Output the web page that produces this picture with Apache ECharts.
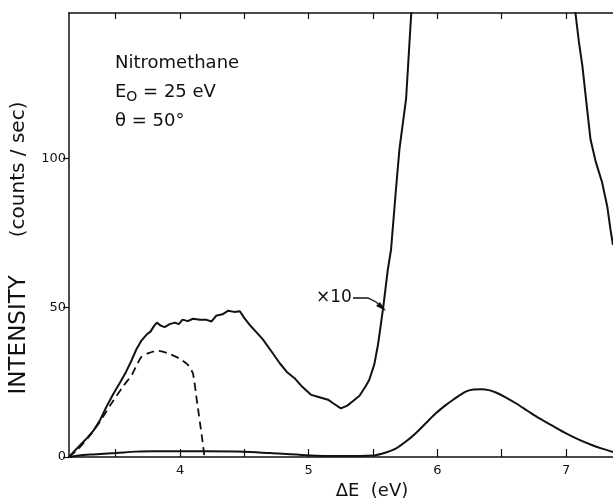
<!DOCTYPE html>
<html>
<head>
<meta charset="utf-8">
<script src="https://cdn.jsdelivr.net/npm/echarts@6/dist/echarts.min.js"></script>
<style>
  html, body { margin: 0; padding: 0; background: #fff; }
  #chart { width: 613px; height: 502px; }
</style>
</head>
<body>
<div id="chart"></div>
<script>
// x10 spectrum (solid, goes off scale between ~5.8 and ~7.06 eV)
const x10E = [3.137, 3.18, 3.225, 3.28, 3.33, 3.38, 3.43, 3.48, 3.535, 3.58, 3.625, 3.66, 3.70, 3.74, 3.77, 3.80, 3.82, 3.85, 3.88, 3.92, 3.96, 3.99, 4.02, 4.06, 4.10, 4.155, 4.20, 4.245, 4.28, 4.33, 4.375, 4.42, 4.465, 4.50, 4.54, 4.60, 4.645, 4.70, 4.775, 4.83, 4.89, 4.95, 5.02, 5.07, 5.11, 5.15, 5.19, 5.25, 5.30, 5.34, 5.395, 5.44, 5.47, 5.51, 5.54, 5.58, 5.615, 5.64, 5.675, 5.705, 5.757, 5.796, 5.81, 6.40, 7.06, 7.075, 7.10, 7.127, 7.16, 7.19, 7.23, 7.28, 7.32, 7.346, 7.365];
const x10I = [0, 2, 4, 6.5, 9, 12.5, 17, 21, 25, 28.5, 32.5, 36, 39, 41, 42, 44, 45, 44, 43.5, 44.5, 45, 44.5, 46, 45.5, 46.3, 46, 46, 45.4, 47.3, 47.8, 49, 48.6, 48.8, 46.5, 44.3, 41.5, 39.3, 36, 31.4, 28.5, 26.4, 23.5, 20.8, 20.2, 19.7, 19.2, 18, 16.3, 17.2, 18.6, 20.5, 23.5, 25.8, 31, 38, 50.4, 62.8, 69.5, 88, 103, 120, 148, 155, null, 155, 148, 139, 131, 118, 106.4, 99, 92, 84, 76, 71];

// unscaled spectrum (solid, lower)
const lowE = [3.137, 3.2, 3.3, 3.38, 3.5, 3.66, 3.8, 4.0, 4.2, 4.49, 4.7, 4.98, 5.24, 5.5, 5.6, 5.68, 5.75, 5.83, 5.91, 5.99, 6.06, 6.12, 6.22, 6.28, 6.34, 6.40, 6.455, 6.53, 6.61, 6.70, 6.79, 6.90, 7.0, 7.1, 7.2, 7.28, 7.365];
const lowI = [0, 0.4, 0.8, 1.0, 1.3, 1.8, 1.9, 1.9, 1.9, 1.8, 1.3, 0.6, 0.3, 0.5, 1.5, 2.9, 5, 7.9, 11.3, 14.7, 17.2, 19.1, 21.9, 22.6, 22.7, 22.4, 21.6, 20, 18, 15.5, 13, 10.3, 7.9, 5.8, 4, 2.8, 1.7];

// dashed component
const dashE = [3.137, 3.2, 3.3, 3.38, 3.46, 3.56, 3.625, 3.66, 3.70, 3.755, 3.82, 3.90, 3.99, 4.06, 4.10, 4.13, 4.17, 4.19];
const dashI = [0, 2.3, 7.2, 12, 17.5, 23.8, 27.5, 30.5, 33.5, 34.8, 35.6, 34.8, 33.1, 30.9, 28, 19.1, 6.8, 0];

const xLabels = [4, 5, 6, 7];
const xTicks = [3.5, 4, 4.5, 5, 5.5, 6, 6.5, 7];
const yLabels = [0, 50, 100];

function pairs(xs, ys) {
    return xs.map(function (x, i) { return [x, ys[i]]; });
}

let chart = echarts.init(document.getElementById('chart'));
const ink = '#111';
const fontFam = '"DejaVu Sans", "Liberation Sans", sans-serif';

let option = {
    backgroundColor: '#fff',
    animation: false,
    grid: { left: 69, right: 0, top: 13, bottom: 45, outerBoundsMode: 'none', containLabel: false },
    xAxis: [{
        type: 'value',
        min: 3.137,
        max: 7.365,
        position: 'bottom',
        axisLine: { show: true, lineStyle: { color: ink, width: 1.5 } },
        axisTick: { show: true, inside: true, length: 8, customValues: xTicks, lineStyle: { color: ink, width: 1.2 } },
        axisLabel: { customValues: xLabels, color: ink, fontSize: 13, fontFamily: fontFam, margin: 7 },
        splitLine: { show: false },
        name: 'ΔE  (eV)',
        nameLocation: 'middle',
        nameGap: 22,
        nameTextStyle: { color: ink, fontSize: 18, fontFamily: fontFam, padding: [0, 0, 0, 62] }
    }, {
        type: 'value',
        min: 3.137,
        max: 7.365,
        position: 'top',
        axisLine: { show: true, lineStyle: { color: ink, width: 1.5 } },
        axisTick: { show: true, inside: true, length: 6, customValues: xTicks, lineStyle: { color: ink, width: 1.2 } },
        axisLabel: { show: false },
        splitLine: { show: false }
    }],
    yAxis: {
        type: 'value',
        min: 0,
        max: 148.7,
        axisLine: { show: true, lineStyle: { color: ink, width: 1.5 } },
        axisTick: { show: true, length: 6, customValues: yLabels, lineStyle: { color: ink, width: 1.2 } },
        axisLabel: { customValues: yLabels, color: ink, fontSize: 13, fontFamily: fontFam, margin: 3 },
        splitLine: { show: false },
        name: '{a|INTENSITY}{g|}{b|(counts / sec)}',
        nameLocation: 'middle',
        nameGap: 29,
        nameRotate: 90,
        nameTextStyle: {
            color: ink,
            fontFamily: fontFam,
            padding: [0, 26, 0, 0],
            rich: {
                a: { fontSize: 23, color: ink, fontFamily: fontFam },
                g: { width: 38 },
                b: { fontSize: 20, color: ink, fontFamily: fontFam }
            }
        }
    },
    series: [{
        name: 'x10',
        type: 'line',
        data: pairs(x10E, x10I),
        showSymbol: false,
        smooth: false,
        connectNulls: false,
        clip: true,
        lineStyle: { color: ink, width: 2 }
    }, {
        name: 'unscaled',
        type: 'line',
        data: pairs(lowE, lowI),
        showSymbol: false,
        smooth: 0.3,
        clip: true,
        lineStyle: { color: ink, width: 2 }
    }, {
        name: 'dashed',
        type: 'line',
        data: pairs(dashE, dashI),
        showSymbol: false,
        smooth: 0.2,
        clip: true,
        lineStyle: { color: ink, width: 1.8, type: [8, 5] }
    }],
    graphic: [{
        type: 'text',
        left: 115,
        top: 49,
        style: {
            text: 'Nitromethane\nE{sub|O} = 25 eV\nθ = 50°',
            fill: ink,
            font: '18px ' + fontFam,
            lineHeight: 29,
            rich: {
                sub: { fontSize: 14, fill: ink, fontFamily: fontFam, padding: [10, 0, 0, 0] }
            }
        }
    }, {
        type: 'text',
        left: 316,
        top: 289,
        style: { text: '×10', fill: ink, font: '17px ' + fontFam }
    }, {
        type: 'polyline',
        shape: { points: [[353, 298], [368, 298], [376, 302], [383, 308]] },
        style: { stroke: ink, lineWidth: 1.3, fill: null }
    }, {
        type: 'polygon',
        shape: { points: [[386, 311], [376, 306], [380, 302]] },
        style: { fill: ink }
    }]
};

chart.setOption(option);
</script>
</body>
</html>
